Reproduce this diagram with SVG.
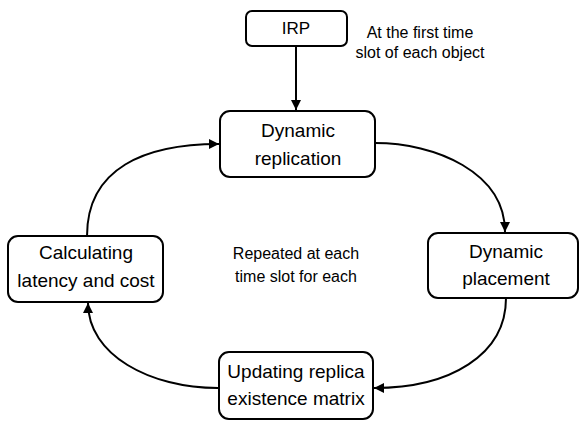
<svg xmlns="http://www.w3.org/2000/svg" width="580" height="421" viewBox="0 0 580 421">
  <defs>
    <marker id="arrow" markerUnits="userSpaceOnUse" markerWidth="11" markerHeight="11" refX="10" refY="5" orient="auto">
      <path d="M0,0 L10,5 L0,10 z" fill="#000"/>
    </marker>
    <style>
      .box { fill: #fff; stroke: #000; stroke-width: 2; }
      .lbl { font-family: "Liberation Sans", Arial, sans-serif; font-size: 19px; fill: #000; text-anchor: middle; }
      .note { font-family: "Liberation Sans", Arial, sans-serif; font-size: 16px; fill: #000; text-anchor: middle; }
      .conn { fill: none; stroke: #000; stroke-width: 2; marker-end: url(#arrow); }
    </style>
  </defs>
  <rect width="580" height="421" fill="#fff"/>

  <!-- connectors -->
  <g id="connectors">
    <path class="conn" d="M296,46 L296,110"/>
    <path class="conn" d="M375,143 C435,143 505,172 505,232"/>
    <path class="conn" d="M506,298 C506,355 450,388 374,388"/>
    <path class="conn" d="M218,388 C150,388 88,355 88,303"/>
    <path class="conn" d="M87,236 C87,168 145,144 219,144"/>
  </g>

  <g id="irp">
    <rect class="box" x="246" y="11" width="101" height="35" rx="6"/>
    <text class="lbl" x="296" y="34" style="font-size:17px">IRP</text>
  </g>

  <g id="dynamic-replication">
    <rect class="box" x="220" y="111" width="155" height="66" rx="10"/>
    <text class="lbl" x="298" y="137">Dynamic</text>
    <text class="lbl" x="298" y="165">replication</text>
  </g>

  <g id="dynamic-placement">
    <rect class="box" x="428" y="233" width="150" height="65" rx="10"/>
    <text class="lbl" x="506" y="258">Dynamic</text>
    <text class="lbl" x="506" y="285">placement</text>
  </g>

  <g id="updating-replica">
    <rect class="box" x="219" y="352" width="154" height="67" rx="10"/>
    <text class="lbl" x="296" y="378">Updating replica</text>
    <text class="lbl" x="296" y="405">existence matrix</text>
  </g>

  <g id="calculating">
    <rect class="box" x="8" y="236" width="155" height="66" rx="10"/>
    <text class="lbl" x="86" y="259">Calculating</text>
    <text class="lbl" x="86" y="287">latency and cost</text>
  </g>

  <!-- free notes -->
  <g id="notes">
    <text class="note" x="420" y="38">At the first time</text>
    <text class="note" x="420" y="58">slot of each object</text>
    <text class="note" x="296" y="259">Repeated at each</text>
    <text class="note" x="296" y="282">time slot for each</text>
  </g>
</svg>
